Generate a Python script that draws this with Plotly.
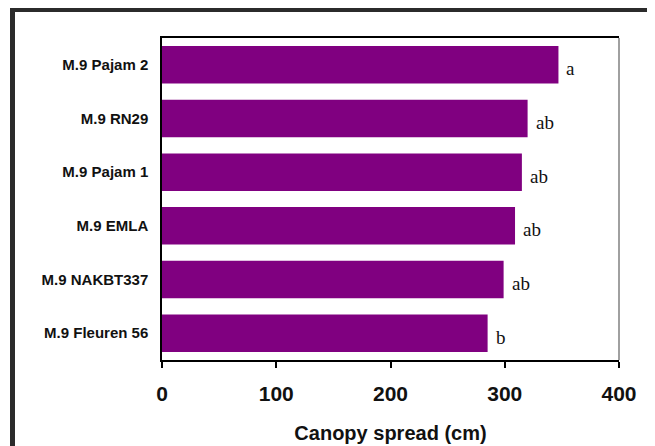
import plotly.graph_objects as go

categories = ["M.9 Pajam 2", "M.9 RN29", "M.9 Pajam 1", "M.9 EMLA", "M.9 NAKBT337", "M.9 Fleuren 56"]
canopy_spread = [347, 320, 315, 309, 299, 285]
letters = ["a", "ab", "ab", "ab", "ab", "b"]
x_ticks = [0, 100, 200, 300, 400]

W, H = 655, 446
OFF = 8  # page body margin offset
# target screen positions of plot area
L_s, R_s, T_s, B_s = 162, 619, 38, 360
ML, MT = L_s - OFF, T_s - OFF
MR, MB = W - (R_s - OFF), H - (B_s - OFF)
pw = W - ML - MR
ph = H - MT - MB

def px_x(px):
    return (px - OFF - ML) / pw

def px_y(py):
    return 1 - (py - OFF - MT) / ph

fig = go.Figure()
fig.add_trace(go.Bar(
    x=canopy_spread, y=categories, orientation="h",
    marker=dict(color="#800080", line=dict(width=0)),
    hoverinfo="skip",
))

for v, c, t in zip(canopy_spread, categories, letters):
    fig.add_annotation(x=v, y=c, text=t, showarrow=False, xanchor="left",
                       xshift=6, yshift=-4,
                       font=dict(family="Liberation Serif, Times New Roman, serif", size=19, color="#111"))

# outer frame
fig.add_shape(type="rect", xref="paper", yref="paper",
              x0=px_x(12.5), x1=px_x(720), y0=px_y(9.5), y1=px_y(520),
              line=dict(color="#2b2b2b", width=5), fillcolor="rgba(0,0,0,0)", layer="below")
# right border of plot (gray)
fig.add_shape(type="line", xref="paper", yref="paper", x0=1, x1=1, y0=0, y1=1,
              line=dict(color="#808080", width=1.5))

fig.update_layout(
    width=W, height=H,
    margin=dict(l=ML, r=MR, t=MT, b=MB, autoexpand=False),
    paper_bgcolor="white", plot_bgcolor="white",
    bargap=0.3, showlegend=False,
    font=dict(family="Liberation Sans, Arial, sans-serif", color="#111"),
)
fig.update_xaxes(
    range=[0, 400], tickvals=x_ticks, ticktext=[str(v) for v in x_ticks],
    showgrid=False, zeroline=False, automargin=False,
    showline=True, linecolor="black", linewidth=1.5, mirror=True,
    ticks="outside", ticklen=6, tickcolor="black", tickwidth=1.5,
    tickfont=dict(size=21, family="Liberation Sans, Arial, sans-serif", weight="bold"),
    ticklabelstandoff=8,
    title=dict(text="Canopy spread (cm)", standoff=22,
               font=dict(size=20, family="Liberation Sans, Arial, sans-serif", weight="bold")),
)
fig.update_yaxes(
    categoryorder="array", categoryarray=categories[::-1],
    showgrid=False, zeroline=False, automargin=False,
    showline=True, linecolor="black", linewidth=1.5,
    ticks="", ticklabelstandoff=9,
    tickfont=dict(size=15, family="Liberation Sans, Arial, sans-serif", weight="bold"),
)

fig.write_html("out.html")
